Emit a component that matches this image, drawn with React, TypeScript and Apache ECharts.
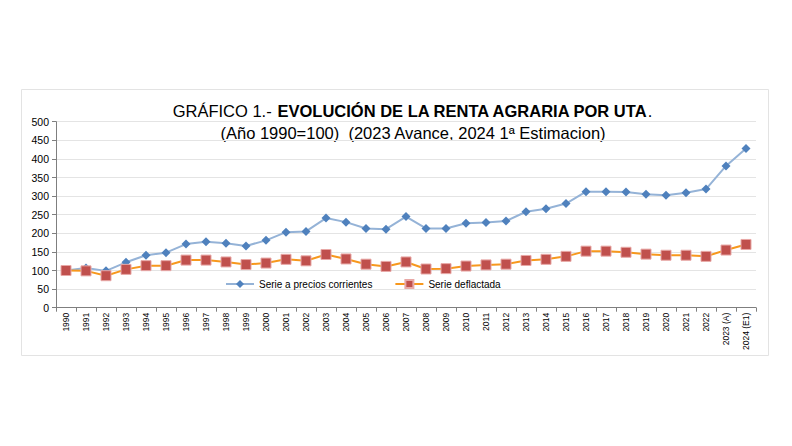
import React, { useEffect, useRef } from "react";
import * as echarts from "echarts";

const categories = [
  "1990", "1991", "1992", "1993", "1994", "1995", "1996", "1997", "1998", "1999",
  "2000", "2001", "2002", "2003", "2004", "2005", "2006", "2007", "2008", "2009",
  "2010", "2011", "2012", "2013", "2014", "2015", "2016", "2017", "2018", "2019",
  "2020", "2021", "2022", "2023 (A)", "2024 (E1)",
];

const seriePreciosCorrientes = [
  100, 107, 99, 122, 141, 148, 171, 177, 173, 166,
  181, 203, 205, 241, 230, 213, 211, 245, 213, 213,
  227, 229, 233, 258, 266, 280, 312, 312, 311, 305,
  302, 309, 319, 381, 428,
];

const serieDeflactada = [
  100, 99, 86, 103, 113, 113, 128, 128, 123, 116,
  120, 130, 126, 143, 131, 117, 111, 123, 104, 105,
  112, 115, 117, 127, 130, 138, 152, 152, 149, 144,
  141, 141, 138, 155, 170,
];

const yTicks = { min: 0, max: 500, interval: 50 };

const FONT = "'Liberation Sans', Arial, sans-serif";

export default function App() {
  const ref = useRef<HTMLDivElement>(null);

  useEffect(() => {
    if (!ref.current) return;
    const chart = echarts.init(ref.current, null, { renderer: "svg" });
    chart.setOption({
      animation: false,
      backgroundColor: "#ffffff",
      textStyle: { fontFamily: FONT },
      graphic: [
        {
          type: "rect",
          shape: { x: 21.5, y: 89.5, width: 747, height: 266 },
          style: { fill: "none", stroke: "#e3e3e3", lineWidth: 1 },
          z: -1,
        },
        {
          type: "text",
          x: 412.5,
          y: 111,
          style: {
            text: "{n|GRÁFICO 1.- }{b|EVOLUCIÓN DE LA RENTA AGRARIA POR UTA}{n|.}",
            textAlign: "center",
            textVerticalAlign: "middle",
            rich: {
              n: { fontSize: 16.5, fontFamily: FONT, fill: "#000000" },
              b: { fontSize: 16.5, fontFamily: FONT, fontWeight: "bold", fill: "#000000" },
            },
          },
        },
        {
          type: "text",
          x: 413,
          y: 133,
          style: {
            text: "(Año 1990=100)  (2023 Avance, 2024 1ª Estimacion)",
            textAlign: "center",
            textVerticalAlign: "middle",
            fontSize: 16.5,
            fontFamily: FONT,
            fill: "#000000",
          },
        },
      ],
      legend: {
        left: 225,
        top: 279,
        padding: 0,
        itemWidth: 28,
        itemHeight: 10,
        itemGap: 22,
        textStyle: { fontSize: 10, fontFamily: FONT, color: "#000000" },
        data: ["Serie a precios corrientes", "Serie deflactada"],
      },
      grid: { left: 56, right: 36, top: 121.7, bottom: 138.3, containLabel: false },
      xAxis: {
        type: "category",
        data: categories,
        boundaryGap: true,
        axisLine: { lineStyle: { color: "#7f7f7f", width: 1 } },
        axisTick: { show: true, length: 4, lineStyle: { color: "#7f7f7f" } },
        axisLabel: {
          rotate: 90,
          interval: 0,
          fontSize: 8.5,
          fontFamily: FONT,
          color: "#000000",
          margin: 5,
        },
      },
      yAxis: {
        type: "value",
        min: yTicks.min,
        max: yTicks.max,
        interval: yTicks.interval,
        axisLine: { show: true, lineStyle: { color: "#7f7f7f", width: 1 } },
        axisTick: { show: true, length: 4, lineStyle: { color: "#7f7f7f" } },
        axisLabel: { fontSize: 10.5, fontFamily: FONT, color: "#000000", margin: 7 },
        splitLine: { lineStyle: { color: "#e4e4e4", width: 1 } },
      },
      series: [
        {
          name: "Serie a precios corrientes",
          type: "line",
          data: seriePreciosCorrientes,
          symbol: "diamond",
          symbolSize: 9,
          lineStyle: { color: "#95B3D7", width: 2 },
          itemStyle: { color: "#4F81BD" },
        },
        {
          name: "Serie deflactada",
          type: "line",
          data: serieDeflactada,
          symbol: "rect",
          symbolSize: 10,
          lineStyle: { color: "#F7981D", width: 2 },
          itemStyle: { color: "#C0504D", borderColor: "#E8A8A6", borderWidth: 1 },
        },
      ],
    });
    return () => chart.dispose();
  }, []);

  return (
    <div
      ref={ref}
      style={{ position: "fixed", left: 0, top: 0, width: 792, height: 446 }}
    />
  );
}
